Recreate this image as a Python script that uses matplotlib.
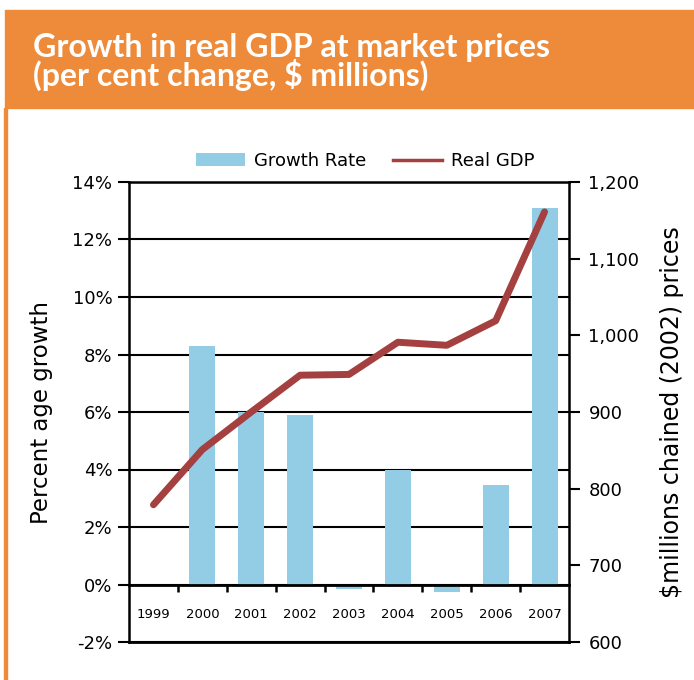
import numpy as np
import matplotlib
matplotlib.use("Agg")
import matplotlib.pyplot as plt
from matplotlib.patches import Rectangle, Patch
from matplotlib.lines import Line2D
from matplotlib.ticker import FuncFormatter, FixedLocator

years = ["1999", "2000", "2001", "2002", "2003", "2004", "2005", "2006", "2007"]
growth_rate = [0.0, 8.3, 6.0, 5.9, -0.15, 4.0, -0.25, 3.45, 13.1]
real_gdp = [779, 851, 900, 948, 949, 991, 987, 1019, 1161]

pct_ticks = [-2, 0, 2, 4, 6, 8, 10, 12, 14]
gdp_ticks = [600, 700, 800, 900, 1000, 1100, 1200]

ORANGE = "#EE8B3A"
BLUE = "#92CDE5"
RED = "#A4403F"


def main():
    plt.rcParams['font.family'] = ['DejaVu Sans']
    fig = plt.figure(figsize=(6.94, 6.8), dpi=100)

    # header band and left border
    fig.patches.append(Rectangle((5 / 694, 1 - 108 / 680), 1, 98 / 680,
                                 transform=fig.transFigure, color=ORANGE, zorder=0))
    fig.patches.append(Rectangle((4 / 694, 0), 3 / 694, 1 - 108 / 680,
                                 transform=fig.transFigure, color=ORANGE, zorder=0))
    title_font = dict(family=['Lato', 'DejaVu Sans'],
                      weight='bold', size=23, color='white', va='baseline')
    fig.text(33 / 694, 1 - 57 / 680, "Growth in real GDP at market prices", **title_font)
    fig.text(33 / 694, 1 - 86 / 680, "(per cent change, $ millions)", **title_font)

    ax = fig.add_axes([129 / 694, 38 / 680, 440 / 694, 460 / 680])
    x = np.arange(len(years))

    ax.bar(x, growth_rate, width=0.53, color=BLUE, zorder=2)
    ax.set_xlim(-0.5, 8.5)
    ax.set_ylim(-2, 14)
    ax.set_yticks(pct_ticks)
    ax.yaxis.set_major_formatter(FuncFormatter(lambda v, p: "%d%%" % v))
    ax.set_axisbelow(True)
    ax.yaxis.grid(True, color='black', linewidth=1.5)
    # bottom frame line at -2%
    ax.axhline(pct_ticks[0], color='black', linewidth=2, clip_on=False)
    ax.tick_params(axis='y', direction='out', length=8, width=1.5, labelsize=13, pad=4)

    ax.spines['bottom'].set_position(('data', 0))
    ax.spines['bottom'].set_linewidth(2)
    for s in ['left', 'right', 'top']:
        ax.spines[s].set_linewidth(1.8)
    ax.set_xticks(x)
    ax.set_xticklabels(years)
    ax.xaxis.set_minor_locator(FixedLocator(x[:-1] + 0.5))
    ax.tick_params(axis='x', which='major', length=0, labelsize=9.5, pad=17)
    ax.tick_params(axis='x', which='minor', direction='out', length=5, width=1.8)
    ax.set_ylabel("Percent age growth", fontsize=16.5, labelpad=14)

    ax2 = ax.twinx()
    ax2.plot(x, real_gdp, color=RED, linewidth=5, solid_capstyle='round',
             solid_joinstyle='round', zorder=3)
    ax2.set_ylim(600, 1200)
    ax2.set_yticks(gdp_ticks)
    ax2.yaxis.set_major_formatter(FuncFormatter(lambda v, p: "{:,.0f}".format(v)))
    ax2.tick_params(axis='y', direction='out', length=8, width=1.5, labelsize=13, pad=6)
    for s in ax2.spines.values():
        s.set_visible(False)
    ax2.set_ylabel("$millions chained (2002) prices", fontsize=17, labelpad=15)

    handles = [Patch(facecolor=BLUE), Line2D([], [], color=RED, linewidth=2.5)]
    fig.legend(handles, ["Growth Rate", "Real GDP"], loc='center', ncol=2,
               bbox_to_anchor=(365 / 694, 1 - 161 / 680), frameon=False,
               fontsize=13, handlelength=2.7, columnspacing=1.5, handletextpad=0.5)

    plt.savefig("out.png", dpi=100)


if __name__ == "__main__":
    main()
